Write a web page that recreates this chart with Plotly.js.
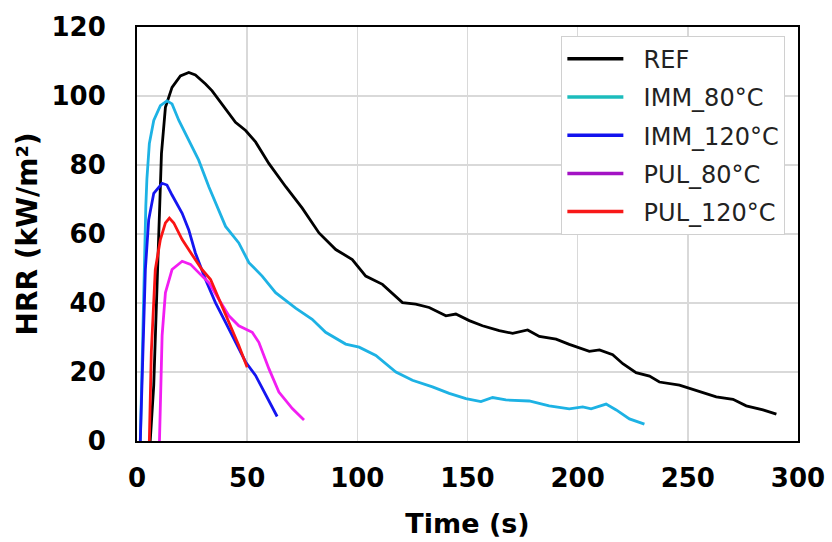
<!DOCTYPE html>
<html>
<head>
<meta charset="utf-8">
<script src="https://cdn.plot.ly/plotly-3.0.1.min.js"></script>
<style>html,body{margin:0;padding:0;background:#fff;}#chart{width:832px;height:542px;}</style>
</head>
<body>
<div id="chart"></div>
<script>
// Data (time in s, HRR in kW/m²)
const seriesNames = ["REF", "IMM_80°C", "IMM_120°C", "PUL_80°C", "PUL_120°C"];

const refT = [6, 7.6, 9.1, 11.1, 12.9, 15.9, 19.7, 23.5, 26.5, 31.1, 34.1, 38.6, 44.7, 49.3, 53.8, 59.9, 67.5, 75, 82.6, 90.2, 97.7, 103.8, 111.4, 120.5, 126.5, 132.6, 140.2, 144.7, 150.8, 156.8, 164.4, 170.5, 177.3, 182.6, 190.2, 196.2, 205.3, 209.9, 215.9, 220.5, 226.5, 232.6, 237.1, 246.2, 255.3, 262.9, 270.5, 276.5, 284.1, 290.2];
const refV = [0, 16.2, 45, 83.3, 96.7, 102.5, 105.8, 106.8, 106.1, 103.5, 101.5, 97.7, 92.4, 90, 86.7, 80.4, 73.7, 67.5, 60.3, 55.5, 52.6, 47.8, 45.4, 40.1, 39.7, 38.7, 36.3, 36.8, 34.9, 33.4, 32, 31.2, 32.2, 30.3, 29.5, 28, 26, 26.4, 25, 22.4, 19.8, 18.8, 17.1, 16.2, 14.4, 12.8, 12.1, 10.2, 9, 7.8];

const imm80T = [1.5, 2.5, 3.3, 4, 4.5, 5.6, 7.6, 10.6, 13.6, 15.9, 19, 23.5, 28, 32.6, 37.1, 40.2, 46.2, 50.8, 56.8, 62.9, 72, 79.5, 85.6, 94.7, 100.8, 108.4, 117.5, 125, 134.1, 141.7, 149.3, 156.1, 161.4, 167.4, 178, 187.1, 196.2, 202.3, 206.1, 212.9, 217.5, 223.5, 230.3];
const imm80V = [0, 30, 55, 68, 76, 86.2, 92.9, 97.2, 98.6, 97.7, 92.9, 87.1, 81.4, 73.7, 67, 62.2, 57.4, 51.7, 47.8, 43, 38.5, 35.3, 31.5, 28.1, 27.2, 24.8, 20, 17.6, 15.7, 13.8, 12.3, 11.4, 12.6, 11.9, 11.6, 10.2, 9.3, 9.9, 9.3, 10.7, 9, 6.4, 4.9];

const imm120T = [1.5, 2.6, 3.8, 5.3, 7.6, 11.4, 13.6, 15.9, 20.5, 23.5, 26.5, 31.1, 35.6, 40.2, 44.7, 49.3, 53.8, 58.4, 63.6];
const imm120V = [0, 25.8, 49.7, 64.1, 71.8, 74.7, 74.2, 71.3, 66, 61.2, 54.5, 46.8, 40.1, 34.4, 28.6, 22.9, 19, 13.3, 7.1];

const pul80T = [10.2, 11.4, 12.9, 15.9, 20.5, 24.3, 28, 32.6, 37.1, 41.7, 46.2, 52.3, 55.3, 59.9, 64.4, 70.5, 75.8];
const pul80V = [0, 30.6, 43, 49.7, 52.1, 51.2, 48.8, 45.9, 41.1, 36.3, 33.4, 31.5, 28.6, 20.9, 14.2, 9.4, 6.1];

const pul120T = [5.6, 6.5, 8.3, 10.6, 12.9, 14.7, 16.7, 20.5, 25, 29.5, 33.4, 37.1, 41.7, 46.2, 50];
const pul120V = [0, 25.8, 49.7, 58.4, 63.2, 64.6, 63.2, 58.4, 54, 49.7, 46.8, 41.1, 34.4, 27.7, 21.4];

const xTickVals = [0, 50, 100, 150, 200, 250, 300];
const yTickVals = [0, 20, 40, 60, 80, 100, 120];

const lineColors = ["#000000", "#1db2e4", "#1515f0", "#f21ef2", "#fa1414"];
const legendColors = ["#000000", "#1cbcbc", "#1212ee", "#a313c4", "#f81818"];

const xs = [refT, imm80T, imm120T, pul80T, pul120T];
const ys = [refV, imm80V, imm120V, pul80V, pul120V];

const traces = [];
for (let i = 0; i < seriesNames.length; i++) {
  traces.push({
    x: xs[i], y: ys[i], type: "scatter", mode: "lines",
    line: {color: lineColors[i], width: 2.8},
    showlegend: false, hoverinfo: "skip"
  });
}
for (let i = 0; i < seriesNames.length; i++) {
  traces.push({
    x: [null], y: [null], type: "scatter", mode: "lines",
    name: "\u00A0\u00A0" + seriesNames[i], legendgroup: "g" + i,
    line: {color: legendColors[i], width: 3.5}
  });
}

const fontFam = "DejaVu Sans, Verdana, sans-serif";
const layout = {
  width: 832, height: 542,
  margin: {l: 137, r: 34, t: 23, b: 101},
  paper_bgcolor: "#ffffff", plot_bgcolor: "#ffffff",
  showlegend: true,
  xaxis: {
    range: [0, 300], tickvals: xTickVals, ticks: "",
    showgrid: true, gridcolor: "#d9d9d9", gridwidth: 1.5, zeroline: false,
    showline: true, mirror: true, linecolor: "#000000", linewidth: 2,
    tickfont: {family: fontFam, size: 26, color: "#000", weight: "bold"},
    ticklabelstandoff: 13,
    automargin: false,
    title: {text: "Time (s)", font: {family: fontFam, size: 27, color: "#000", weight: "bold"}}
  },
  yaxis: {
    range: [0, 120], tickvals: yTickVals, ticks: "",
    showgrid: true, gridcolor: "#d9d9d9", gridwidth: 1.5, zeroline: false,
    showline: true, mirror: true, linecolor: "#000000", linewidth: 2,
    tickfont: {family: fontFam, size: 26, color: "#000", weight: "bold"},
    ticklabelstandoff: 24,
    automargin: true,
    title: {text: "HRR (kW/m²)", standoff: 6, font: {family: fontFam, size: 28, color: "#000", weight: "bold"}}
  },
  legend: {
    x: 0.642, y: 0.979, xanchor: "left", yanchor: "top",
    bgcolor: "#ffffff", bordercolor: "#d0d0d0", borderwidth: 1,
    font: {family: fontFam, size: 24, color: "#222"},
    traceorder: "grouped", tracegroupgap: 4, itemwidth: 56
  }
};

Plotly.newPlot("chart", traces, layout, {staticPlot: true, displayModeBar: false});
</script>
</body>
</html>
